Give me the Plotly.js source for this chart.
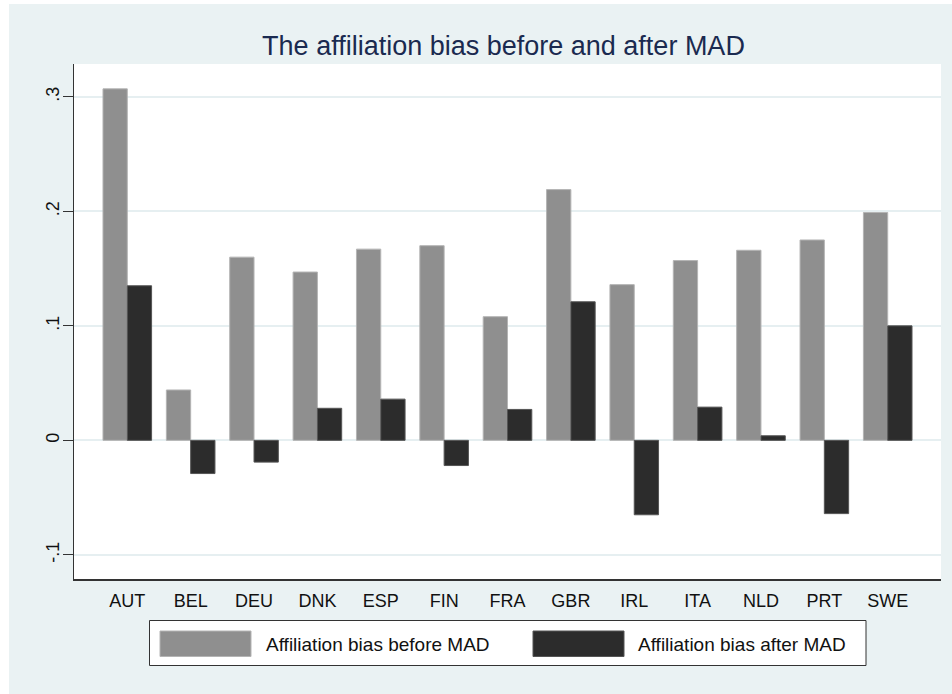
<!DOCTYPE html>
<html>
<head>
<meta charset="utf-8">
<script src="https://cdn.plot.ly/plotly-3.0.1.min.js"></script>
<style>html,body{margin:0;padding:0;background:#fff;}#chart{width:952px;height:694px;}</style>
</head>
<body>
<div id="chart"></div>
<script>
var countries = ['AUT','BEL','DEU','DNK','ESP','FIN','FRA','GBR','IRL','ITA','NLD','PRT','SWE'];
var biasBefore = [0.307, 0.044, 0.160, 0.147, 0.167, 0.170, 0.108, 0.219, 0.136, 0.157, 0.166, 0.175, 0.199];
var biasAfter = [0.135, -0.029, -0.019, 0.028, 0.036, -0.022, 0.027, 0.121, -0.065, 0.029, 0.004, -0.064, 0.100];
var seriesNames = ['Affiliation bias before MAD', 'Affiliation bias after MAD'];
var yTickVals = [-0.1, 0, 0.1, 0.2, 0.3];
var yTickText = ['-.1', '0', '.1', '.2', '.3'];
var chartTitle = 'The affiliation bias before and after MAD';

var W = 952, H = 694;
var M = {l: 74, r: 11, t: 64, b: 115};
var PW = W - M.l - M.r, PH = H - M.t - M.b;
function px(x) { return (x - M.l) / PW; }
function py(y) { return (H - M.b - y) / PH; }

var colBefore = '#8f8f8f', colAfter = '#2c2c2c';
var bg = '#eaf2f3';

var traces = [
  {type: 'bar', x: countries, y: biasBefore, name: seriesNames[0],
   marker: {color: colBefore, line: {color: '#b4b4b4', width: 1}}},
  {type: 'bar', x: countries, y: biasAfter, name: seriesNames[1],
   marker: {color: colAfter, line: {color: '#555555', width: 1}}}
];

var font = 'Arial, "Liberation Sans", Helvetica, sans-serif';

var shapes = [
  {type: 'rect', xref: 'paper', yref: 'paper', x0: px(0), x1: px(9), y0: py(0), y1: py(H), fillcolor: '#ffffff', line: {width: 0}, layer: 'below'},
  {type: 'rect', xref: 'paper', yref: 'paper', x0: px(0), x1: px(W), y0: py(0), y1: py(4), fillcolor: '#ffffff', line: {width: 0}, layer: 'below'},
  {type: 'rect', xref: 'paper', yref: 'paper', x0: px(149.5), x1: px(866), y0: py(620.5), y1: py(665.5), fillcolor: '#ffffff', line: {color: '#333333', width: 1}},
  {type: 'rect', xref: 'paper', yref: 'paper', x0: px(160), x1: px(251), y0: py(631), y1: py(656.5), fillcolor: colBefore, line: {color: '#b4b4b4', width: 1}},
  {type: 'rect', xref: 'paper', yref: 'paper', x0: px(533), x1: px(624), y0: py(631), y1: py(656.5), fillcolor: colAfter, line: {color: '#555555', width: 1}}
];

var annotations = [
  {xref: 'paper', yref: 'paper', x: px(264), y: py(644), xanchor: 'left', yanchor: 'middle', showarrow: false,
   text: seriesNames[0], font: {family: font, size: 19, color: '#111111'}},
  {xref: 'paper', yref: 'paper', x: px(636), y: py(644), xanchor: 'left', yanchor: 'middle', showarrow: false,
   text: seriesNames[1], font: {family: font, size: 19, color: '#111111'}}
];

var layout = {
  width: W, height: H,
  margin: M,
  paper_bgcolor: bg,
  plot_bgcolor: '#ffffff',
  showlegend: false,
  barmode: 'group',
  bargap: 0.233,
  bargroupgap: 0,
  title: {text: chartTitle, xref: 'container', x: 503.5 / W, xanchor: 'center', yref: 'container', y: 1 - 46 / H, yanchor: 'middle',
          font: {family: font, size: 27, color: '#1a2a50'}},
  xaxis: {
    type: 'category', range: [-0.841, 12.841],
    showline: true, linecolor: '#333333', linewidth: 1.5,
    showgrid: false, zeroline: false, ticks: '',
    ticklabelstandoff: 5,
    tickfont: {family: font, size: 18, color: '#111111'}
  },
  yaxis: {
    range: [-0.1211, 0.3287],
    tickmode: 'array', tickvals: yTickVals, ticktext: yTickText,
    tickangle: -90,
    ticks: 'outside', ticklen: 10, tickwidth: 1.2, tickcolor: '#333333',
    ticklabelstandoff: -4,
    showline: true, linecolor: '#333333', linewidth: 1.5,
    showgrid: true, gridcolor: '#e6eff1', gridwidth: 2,
    zeroline: false,
    tickfont: {family: font, size: 18, color: '#111111'}
  },
  shapes: shapes,
  annotations: annotations
};

Plotly.newPlot('chart', traces, layout, {displayModeBar: false, staticPlot: true});
</script>
</body>
</html>
